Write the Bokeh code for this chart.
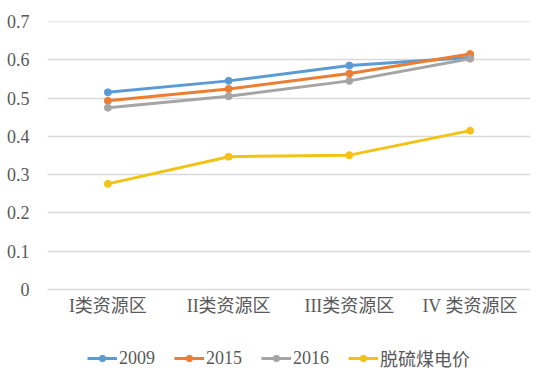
from bokeh.plotting import figure
from bokeh.models import Range1d, Legend, LegendItem, FixedTicker, CustomJSTickFormatter
from bokeh.core.properties import value
from bokeh.embed import file_html
from bokeh.resources import INLINE

categories = ["I类资源区", "II类资源区", "III类资源区", "IV 类资源区"]
s2009 = [0.515, 0.545, 0.585, 0.606]
s2015 = [0.493, 0.524, 0.564, 0.615]
s2016 = [0.475, 0.505, 0.545, 0.603]
desulf = [0.276, 0.347, 0.351, 0.415]
series_names = ["2009", "2015", "2016", "脱硫煤电价"]
y_ticks = [0, 0.1, 0.2, 0.3, 0.4, 0.5, 0.6, 0.7]
colors = ["#5b9bd5", "#ed7d31", "#a5a5a5", "#f2c314"]

FONT = "Liberation Serif, Noto Sans CJK SC"

W, H = 551, 379
TOP, BOTTOM_PX = 21, 289          # pixel rows of the 0.7 and 0 gridlines
px_per_unit = (BOTTOM_PX - TOP) / 0.7
y_low = -(H - BOTTOM_PX) / px_per_unit

p = figure(width=W, height=H, x_range=categories, y_range=Range1d(y_low, 0.7001),
           output_backend="svg", toolbar_location=None, x_axis_location=None,
           min_border_left=47, min_border_right=21, min_border_top=TOP, min_border_bottom=0)
p.outline_line_color = None
p.background_fill_color = "white"
p.border_fill_color = "white"

p.xgrid.grid_line_color = None
p.ygrid.grid_line_color = "#d9d9d9"
p.ygrid.grid_line_width = 1.5
p.yaxis.ticker = FixedTicker(ticks=y_ticks)
ax = p.yaxis[0]
ax.axis_line_color = None
ax.major_tick_line_color = None
ax.minor_tick_line_color = None
ax.major_label_text_font = FONT
ax.major_label_text_font_size = "18px"
ax.major_label_text_color = "#595959"
ax.major_label_standoff = 12
ax.formatter = CustomJSTickFormatter(code="return tick < 1e-9 ? '0' : tick.toFixed(1);")

# category labels under the plot
label_y = -(305 - BOTTOM_PX) / px_per_unit
p.text(x=categories, y=[label_y] * len(categories), text=categories,
       text_font=value(FONT), text_font_size="18px", text_color="#595959",
       text_align="center", text_baseline="middle")

items = []
for name, vals, c in zip(series_names, [s2009, s2015, s2016, desulf], colors):
    l = p.line(categories, vals, line_color=c, line_width=3)
    m = p.scatter(categories, vals, size=7, fill_color=c, line_color=c)
    items.append(LegendItem(label=name, renderers=[l, m]))

legend = Legend(items=items, orientation="horizontal", location=(40, 8),
                label_text_font=FONT, label_text_font_size="18px", label_text_color="#595959",
                glyph_width=30, glyph_height=16, label_height=16, label_standoff=2,
                spacing=19, padding=0, margin=0, border_line_color=None,
                background_fill_alpha=0)
p.add_layout(legend, "center")

open("out.html", "w").write(file_html(p, INLINE))
